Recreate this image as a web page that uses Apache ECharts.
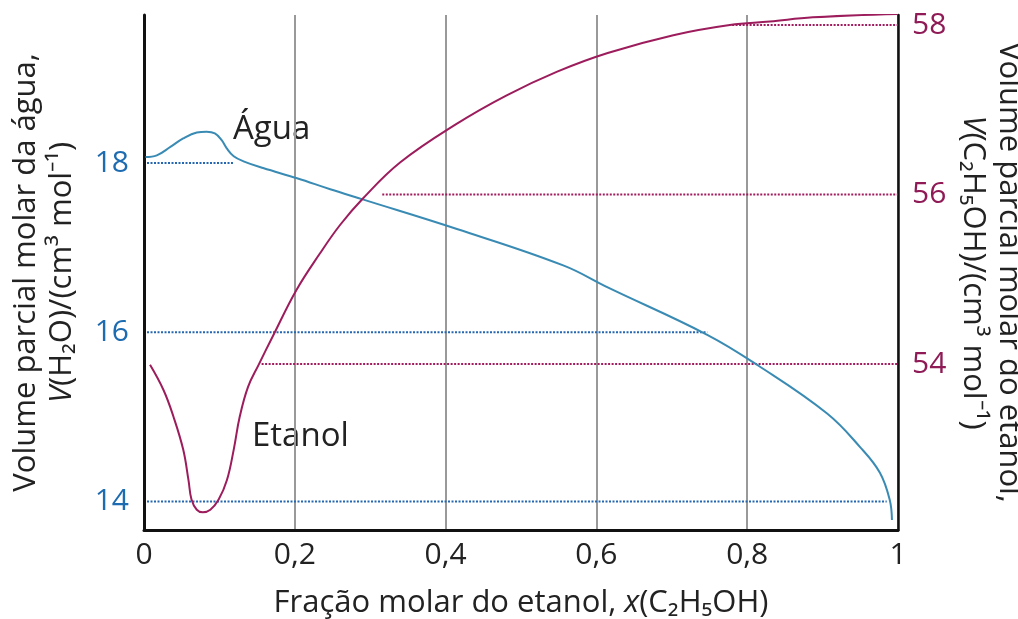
<!DOCTYPE html>
<html><head><meta charset="utf-8">
<script src="https://cdn.jsdelivr.net/npm/echarts@6/dist/echarts.min.js"></script>
<style>html,body{margin:0;padding:0;background:#fff}#c{width:1018px;height:619px}</style>
</head><body><div id="c"></div>
<script>
// ---- data ----
const xTickValues = [0, 0.2, 0.4, 0.6, 0.8, 1];
const waterTickValues = [14, 16, 18];
const ethanolTickValues = [54, 56, 58];

const waterX = [0.002,0.017,0.035,0.052,0.070,0.083,0.094,0.103,0.110,0.119,0.132,0.158,0.203,0.247,0.290,0.415,0.556,0.615,0.747,0.814,0.906,0.950,0.976,0.989,0.992];
const waterV = [18.07,18.09,18.19,18.29,18.36,18.37,18.35,18.27,18.17,18.08,18.02,17.94,17.82,17.69,17.57,17.22,16.79,16.53,15.97,15.61,15.04,14.64,14.34,14.02,13.78];

const ethanolX = [0.008,0.026,0.039,0.052,0.059,0.063,0.070,0.078,0.088,0.099,0.110,0.119,0.127,0.138,0.152,0.171,0.202,0.233,0.260,0.290,0.340,0.414,0.481,0.548,0.615,0.702,0.777,0.830,0.887,1.0];
const ethanolV = [53.99,53.69,53.38,52.99,52.63,52.40,52.28,52.25,52.28,52.40,52.63,52.99,53.38,53.73,53.99,54.33,54.87,55.30,55.64,55.95,56.38,56.83,57.17,57.45,57.67,57.88,58.00,58.04,58.09,58.13];

// dotted reference lines
const waterRefV = [18, 16, 14];
const waterRefStart = [0.004, 0.004, 0.004];
const waterRefEnd = [0.118, 0.747, 0.985];
const ethanolRefV = [58, 56, 54];
const ethanolRefStart = [0.780, 0.316, 0.156];
const ethanolRefEnd = [1, 1, 1];

const curveLabels = ['Água', 'Etanol'];

// ---- chart ----
const FONT = '"Open Sans"';
const BLUE_LINE = '#3a8bb4', BLUE_DOT = '#2467b0', BLUE_TXT = '#1d6bb0';
const MAG_LINE = '#9c1c5c', MAG_DOT = '#a01c5e', MAG_TXT = '#8f1a55';
const chart = echarts.init(document.getElementById('c'), null, {renderer: 'canvas'});

const series = [];
waterRefV.forEach((v, i) => series.push({
  type: 'line', yAxisIndex: 0, symbol: 'none', silent: true, z: 1,
  data: [[waterRefStart[i], v], [waterRefEnd[i], v]],
  lineStyle: {color: BLUE_DOT, width: 2.2, type: [2, 1.5]}
}));
ethanolRefV.forEach((v, i) => series.push({
  type: 'line', yAxisIndex: 1, symbol: 'none', silent: true, z: 1,
  data: [[ethanolRefStart[i], v], [ethanolRefEnd[i], v]],
  lineStyle: {color: MAG_DOT, width: 2.2, type: [2, 1.5]}
}));
series.push({
  type: 'line', yAxisIndex: 0, symbol: 'none', smooth: 0.4, z: 3,
  data: waterX.map((x, i) => [x, waterV[i]]),
  lineStyle: {color: BLUE_LINE, width: 2}
});
series.push({
  type: 'line', yAxisIndex: 1, symbol: 'none', smooth: 0.4, z: 3,
  data: ethanolX.map((x, i) => [x, ethanolV[i]]),
  lineStyle: {color: MAG_LINE, width: 2}
});

const titleRich = {
  a: {fontFamily: FONT, fontSize: 31, color: '#222', lineHeight: 36},
  i: {fontFamily: FONT, fontSize: 31, color: '#222', fontStyle: 'italic', lineHeight: 36}
};

const option = {
  animation: false,
  backgroundColor: '#fff',
  grid: {left: 144, right: 120, top: 15, bottom: 89, containLabel: false, outerBoundsMode: 'none'},
  xAxis: {
    type: 'value', min: 0, max: 1, interval: 0.2,
    axisLine: {show: true, lineStyle: {color: '#111', width: 3}},
    axisTick: {show: false},
    splitLine: {show: true, lineStyle: {color: '#999', width: 2}},
    axisLabel: {
      customValues: xTickValues,
      margin: 10, fontFamily: FONT, fontSize: 30, color: '#222',
      formatter: v => String(v).replace('.', ',')
    },
    name: '{a|Fração molar do etanol, }{i|x}{a|(C₂H₅OH)}',
    nameLocation: 'middle', nameGap: 55,
    nameTextStyle: {rich: titleRich}
  },
  yAxis: [{
    type: 'value', position: 'left', min: 13.663, max: 19.749,
    axisLine: {show: true, lineStyle: {color: '#111', width: 3}},
    axisTick: {show: false}, splitLine: {show: false},
    axisLabel: {customValues: waterTickValues, margin: 15, fontFamily: FONT, fontSize: 30, color: BLUE_TXT},
    name: '{a|Volume parcial molar da água,}\n{i|V}{a|(H₂O)/(cm³ mol⁻¹)}',
    nameLocation: 'middle', nameRotate: 90, nameGap: 64,
    nameTextStyle: {rich: titleRich, align: 'center'}
  }, {
    type: 'value', position: 'right', min: 52.041, max: 58.118,
    axisLine: {show: true, lineStyle: {color: '#111', width: 2.5}},
    axisTick: {show: false}, splitLine: {show: false},
    axisLabel: {customValues: ethanolTickValues, margin: 14, fontFamily: FONT, fontSize: 30, color: MAG_TXT},
    name: '{a|Volume parcial molar do etanol,}\n{i|V}{a|(C₂H₅OH)/(cm³ mol⁻¹)}',
    nameLocation: 'middle', nameRotate: -90, nameGap: 46,
    nameTextStyle: {rich: titleRich, align: 'center'}
  }],
  graphic: [
    {type: 'text', left: 233, top: 113, style: {text: curveLabels[0], font: '33px ' + FONT, fill: '#222'}},
    {type: 'text', left: 252, top: 420, style: {text: curveLabels[1], font: '33px ' + FONT, fill: '#222'}}
  ],
  series
};
chart.setOption(option);
</script>
</body></html>
